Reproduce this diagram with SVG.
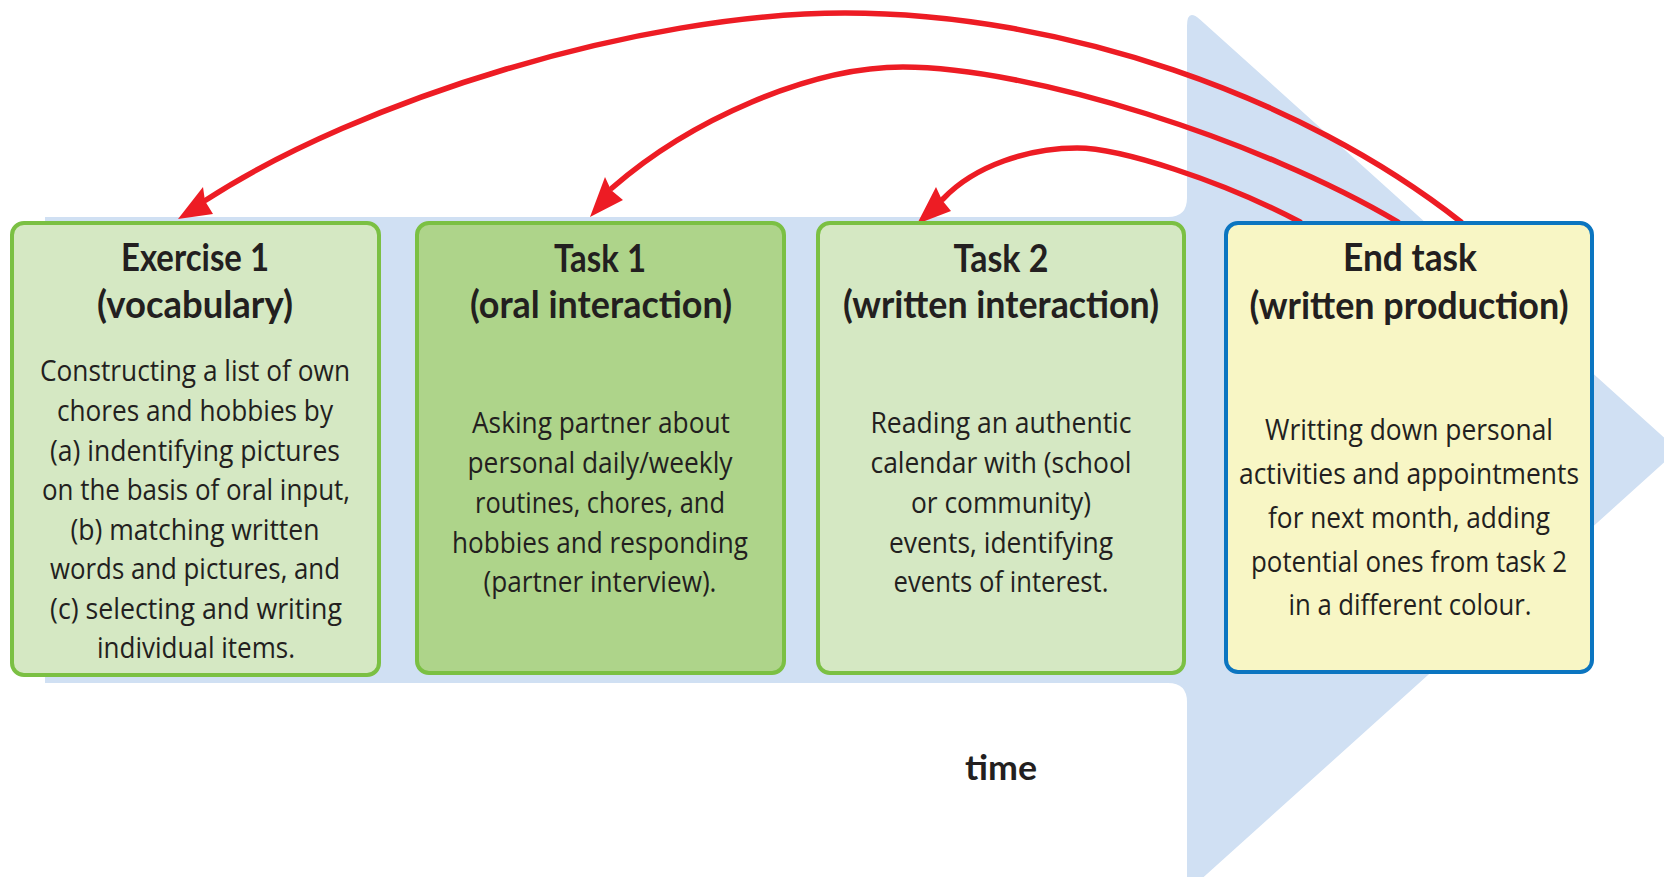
<svg xmlns="http://www.w3.org/2000/svg" width="1664" height="877" viewBox="0 0 1664 877">
<style>
.t{font-family:Lato,"Open Sans",sans-serif;font-weight:700;font-size:38px;fill:#231f20;text-anchor:middle}
.b{font-family:"Open Sans","Noto Sans",sans-serif;font-weight:400;font-size:30px;fill:#231f20;text-anchor:middle}
.g{fill:#d5e8c3;stroke:#7bc043;stroke-width:4}
.gd{fill:#aed48a;stroke:#7bc043;stroke-width:4}
.y{fill:#f8f6c5;stroke:#0b75c0;stroke-width:4}
.c{fill:none;stroke:#ed1c24;stroke-width:5.5;stroke-linecap:round}
.h{fill:#ed1c24}
</style>
<rect width="1664" height="877" fill="#ffffff"/>
<path id="timeline" d="M45,217 H1168 Q1187,217 1187,198 V26 Q1187,8 1200,19.5 L1678,450 L1187,892 V702 Q1187,683 1168,683 H45 Z" fill="#d0e0f3"/>
<text x="1001" y="780" class="t" style="font-size:34px" textLength="72" lengthAdjust="spacingAndGlyphs">time</text>
<g id="connectors">
<path class="c" d="M1461,222 C1300,95 1060,13 845,13 C640,13 360,100 206,200"/>
<polygon class="h" points="178,219 203,187 205,201 213,214"/>
<path class="c" d="M1398,222 C1260,140 1030,67 903,67 C810,67 690,120 612,188"/>
<polygon class="h" points="590,217 605,177 611,190 623,200"/>
<path class="c" d="M1300,222 C1220,180 1120,148 1077,148 C1030,148 975,165 943,199"/>
<polygon class="h" points="917,224 936,187 942,200 951,211"/>
</g>
<g id="exercise1">
<rect class="g" x="12" y="223" width="367" height="452" rx="12"/>
<text class="t" x="195" y="271" textLength="148" lengthAdjust="spacingAndGlyphs">Exercise 1</text>
<text class="t" x="195" y="318" textLength="196" lengthAdjust="spacingAndGlyphs">(vocabulary)</text>
<text class="b" x="195" y="381" textLength="310" lengthAdjust="spacingAndGlyphs">Constructing a list of own</text>
<text class="b" x="195" y="421" textLength="276" lengthAdjust="spacingAndGlyphs">chores and hobbies by</text>
<text class="b" x="195" y="461" textLength="290" lengthAdjust="spacingAndGlyphs">(a) indentifying pictures</text>
<text class="b" x="196" y="500" textLength="308" lengthAdjust="spacingAndGlyphs">on the basis of oral input,</text>
<text class="b" x="195" y="540" textLength="249" lengthAdjust="spacingAndGlyphs">(b) matching written</text>
<text class="b" x="195" y="579" textLength="290" lengthAdjust="spacingAndGlyphs">words and pictures, and</text>
<text class="b" x="196" y="619" textLength="292" lengthAdjust="spacingAndGlyphs">(c) selecting and writing</text>
<text class="b" x="196" y="658" textLength="198" lengthAdjust="spacingAndGlyphs">individual items.</text>
</g>
<g id="task1">
<rect class="gd" x="417" y="223" width="367" height="450" rx="12"/>
<text class="t" x="600" y="272" textLength="92" lengthAdjust="spacingAndGlyphs">Task 1</text>
<text class="t" x="601" y="318" textLength="262" lengthAdjust="spacingAndGlyphs">(oral interaction)</text>
<text class="b" x="601" y="433" textLength="258" lengthAdjust="spacingAndGlyphs">Asking partner about</text>
<text class="b" x="600" y="473" textLength="265" lengthAdjust="spacingAndGlyphs">personal daily/weekly</text>
<text class="b" x="600" y="513" textLength="250" lengthAdjust="spacingAndGlyphs">routines, chores, and</text>
<text class="b" x="600" y="553" textLength="296" lengthAdjust="spacingAndGlyphs">hobbies and responding</text>
<text class="b" x="600" y="592" textLength="233" lengthAdjust="spacingAndGlyphs">(partner interview).</text>
</g>
<g id="task2">
<rect class="g" x="818" y="223" width="366" height="450" rx="12"/>
<text class="t" x="1001" y="272" textLength="95" lengthAdjust="spacingAndGlyphs">Task 2</text>
<text class="t" x="1001" y="318" textLength="316" lengthAdjust="spacingAndGlyphs">(written interaction)</text>
<text class="b" x="1001" y="433" textLength="261" lengthAdjust="spacingAndGlyphs">Reading an authentic</text>
<text class="b" x="1001" y="473" textLength="261" lengthAdjust="spacingAndGlyphs">calendar with (school</text>
<text class="b" x="1001" y="513" textLength="180" lengthAdjust="spacingAndGlyphs">or community)</text>
<text class="b" x="1001" y="553" textLength="224" lengthAdjust="spacingAndGlyphs">events, identifying</text>
<text class="b" x="1001" y="592" textLength="215" lengthAdjust="spacingAndGlyphs">events of interest.</text>
</g>
<g id="endtask">
<rect class="y" x="1226" y="223" width="366" height="449" rx="12"/>
<text class="t" x="1410" y="271" textLength="134" lengthAdjust="spacingAndGlyphs">End task</text>
<text class="t" x="1409" y="319" textLength="319" lengthAdjust="spacingAndGlyphs">(written production)</text>
<text class="b" x="1409" y="440" textLength="288" lengthAdjust="spacingAndGlyphs">Writting down personal</text>
<text class="b" x="1409" y="484" textLength="340" lengthAdjust="spacingAndGlyphs">activities and appointments</text>
<text class="b" x="1409" y="528" textLength="282" lengthAdjust="spacingAndGlyphs">for next month, adding</text>
<text class="b" x="1409" y="572" textLength="316" lengthAdjust="spacingAndGlyphs">potential ones from task 2</text>
<text class="b" x="1410" y="615" textLength="243" lengthAdjust="spacingAndGlyphs">in a different colour.</text>
</g>
</svg>
